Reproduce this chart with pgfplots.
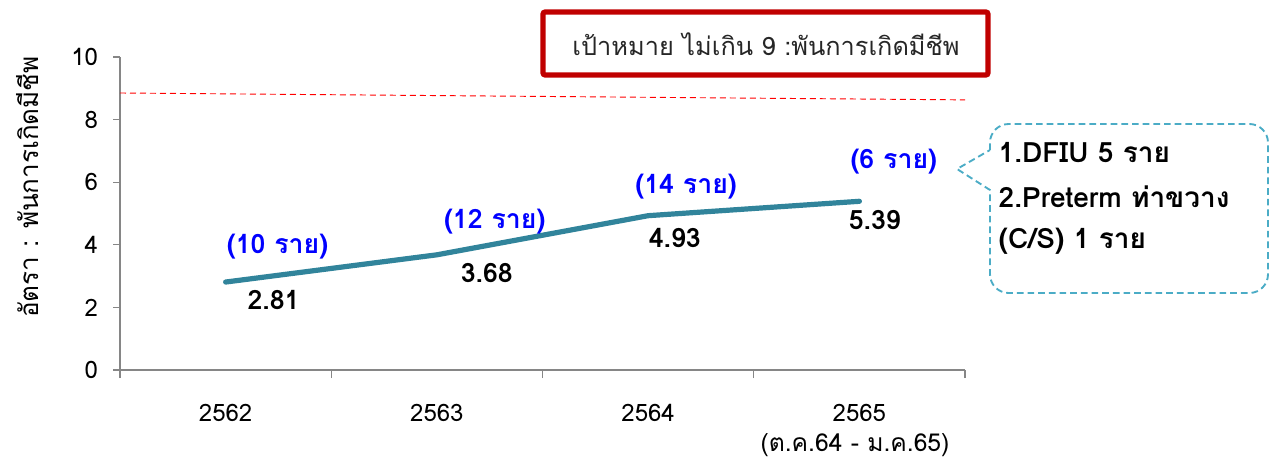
\documentclass[border=0pt]{standalone}
\usepackage{fontspec}
\setmainfont{Loma}[Script=Thai]
\usepackage{pgfplots}
\pgfplotsset{compat=1.18}
\definecolor{lineteal}{HTML}{31849B}
\definecolor{axgray}{HTML}{868686}
\definecolor{boxred}{HTML}{C00000}
\definecolor{calloutblue}{HTML}{4BACC6}
\definecolor{lblblue}{HTML}{0000FF}
\begin{document}
\begin{tikzpicture}[x=0.75pt,y=0.75pt]
\useasboundingbox (0,0) rectangle (1270,464);
\begin{axis}[
  at={(90pt,70.5pt)}, anchor=south west,
  scale only axis, width=633.75pt, height=234.75pt,
  xmin=-0.5, xmax=3.5, ymin=0, ymax=10,
  axis x line*=bottom, axis y line*=left,
  axis line style={axgray, line width=1.2pt},
  every tick/.style={axgray, line width=1pt},
  tick align=outside,
  xtick={0,1,2,3}, xticklabels={2562,2563,2564,2565},
  major x tick style={draw=none},
  minor xtick={-0.5,0.5,1.5,2.5,3.5},
  minor tick length=6pt,
  ytick={0,2,4,6,8,10},
  major tick length=5pt,
  /pgf/number format/assume math mode=true,
  ticklabel style={font=\fontsize{18pt}{21pt}\selectfont},
  xticklabel style={yshift=-17pt},
  yticklabel style={xshift=-8pt},
  clip=false,
]
\addplot[red, line width=0.7pt, dash pattern=on 4.5pt off 3pt] coordinates {(-0.5,8.85) (3.5,8.63)};
\addplot[lineteal, line width=3.9pt, line cap=round, line join=round] coordinates {(0,2.81) (1,3.68) (2,4.93) (3,5.39)};
\begin{scope}[every node/.style={font=\fontsize{20pt}{23pt}\selectfont\bfseries}]
\node at (axis cs:0.227,2.24) {2.81};
\node at (axis cs:1.236,3.10) {3.68};
\node at (axis cs:2.126,4.22) {4.93};
\node at (axis cs:3.073,4.79) {5.39};
\node[lblblue] at (axis cs:0.246,3.93) {(10 ราย)};
\node[lblblue] at (axis cs:1.274,4.73) {(12 ราย)};
\node[lblblue] at (axis cs:2.180,5.85) {(14 ราย)};
\node[lblblue] at (axis cs:3.163,6.65) {(6 ราย)};
\end{scope}
\end{axis}
% y label
\node[rotate=90, font=\fontsize{19.5pt}{23pt}\selectfont] at (28,277) {อัตรา : พันการเกิดมีชีพ};
% x sub label
\node[font=\fontsize{18.5pt}{22pt}\selectfont] at (855,19) {(ต.ค.64 - ม.ค.65)};
% title box
\draw[boxred, line width=3.8pt, rounded corners=1.5pt] (543,452) rectangle (988,389);
\node[font=\fontsize{19pt}{22pt}\selectfont, text=black!85] at (766,420) {เป้าหมาย ไม่เกิน 9 :พันการเกิดมีชีพ};
% callout
\draw[calloutblue, line width=1.4pt, dash pattern=on 5pt off 3pt]
  (990,314) [rounded corners=14pt] -- (990,340) -- (1268,340) -- (1268,171) -- (990,171) [sharp corners] -- (990,274) -- (957,295) -- cycle;
\begin{scope}[every node/.style={anchor=west, font=\fontsize{21pt}{24pt}\selectfont\bfseries}]
\node at (994,311) {1.DFIU 5 ราย};
\node at (994,267) {2.Preterm ท่าขวาง};
\node at (994,223) {(C/S) 1 ราย};
\end{scope}
\end{tikzpicture}
\end{document}
